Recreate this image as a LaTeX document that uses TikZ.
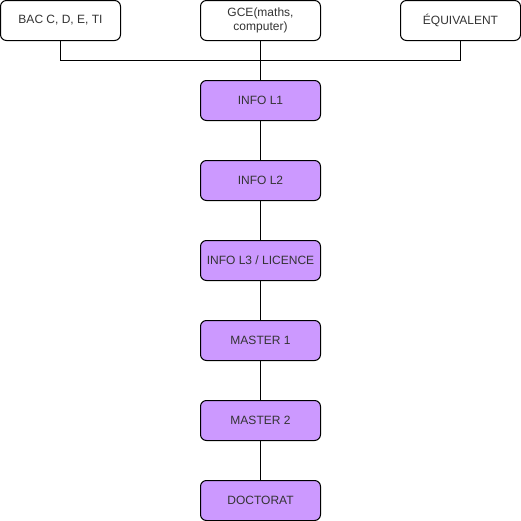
\documentclass[tikz,border=0pt]{standalone}
\usepackage{fontspec}
\setmainfont{Liberation Sans}
\definecolor{lilas}{HTML}{CC99FF}
\definecolor{texte}{HTML}{333333}
\tikzset{
	entree/.style={draw, rounded corners=4.5pt, fill=white, minimum width=90pt, minimum height=30pt, align=center, text=texte, font=\fontsize{9}{10}\selectfont, line width=0.75pt},
	niveau/.style={entree, fill=lilas}
}
\begin{document}
\begin{tikzpicture}[x=0.75pt, y=-0.75pt, line width=0.75pt]
	\useasboundingbox (0,0) rectangle (521,521);
	
	% diplomes d'entree
	\node[entree] (bac) at (60.5,20.5) {BAC C, D, E, TI};
	\node[entree] (gce) at (260.5,20.5) {GCE(maths,\\computer)};
	\node[entree] (equiv) at (460.5,20.5) {ÉQUIVALENT};
	
	% parcours
	\node[niveau] (l1) at (260.5,100.5) {INFO L1};
	\node[niveau] (l2) at (260.5,180.5) {INFO L2};
	\node[niveau] (l3) at (260.5,260.5) {INFO L3 / LICENCE};
	\node[niveau] (m1) at (260.5,340.5) {MASTER 1};
	\node[niveau] (m2) at (260.5,420.5) {MASTER 2};
	\node[niveau] (doc) at (260.5,500.5) {DOCTORAT};
	
	\coordinate (barre) at (260.5,60.5);
	\draw (bac.south) |- (barre) -| (equiv.south);
	\draw (gce) -- (l1);
	\draw (l1) -- (l2);
	\draw (l2) -- (l3);
	\draw (l3) -- (m1);
	\draw (m1) -- (m2);
	\draw (m2) -- (doc);
	
\end{tikzpicture}
\end{document}
